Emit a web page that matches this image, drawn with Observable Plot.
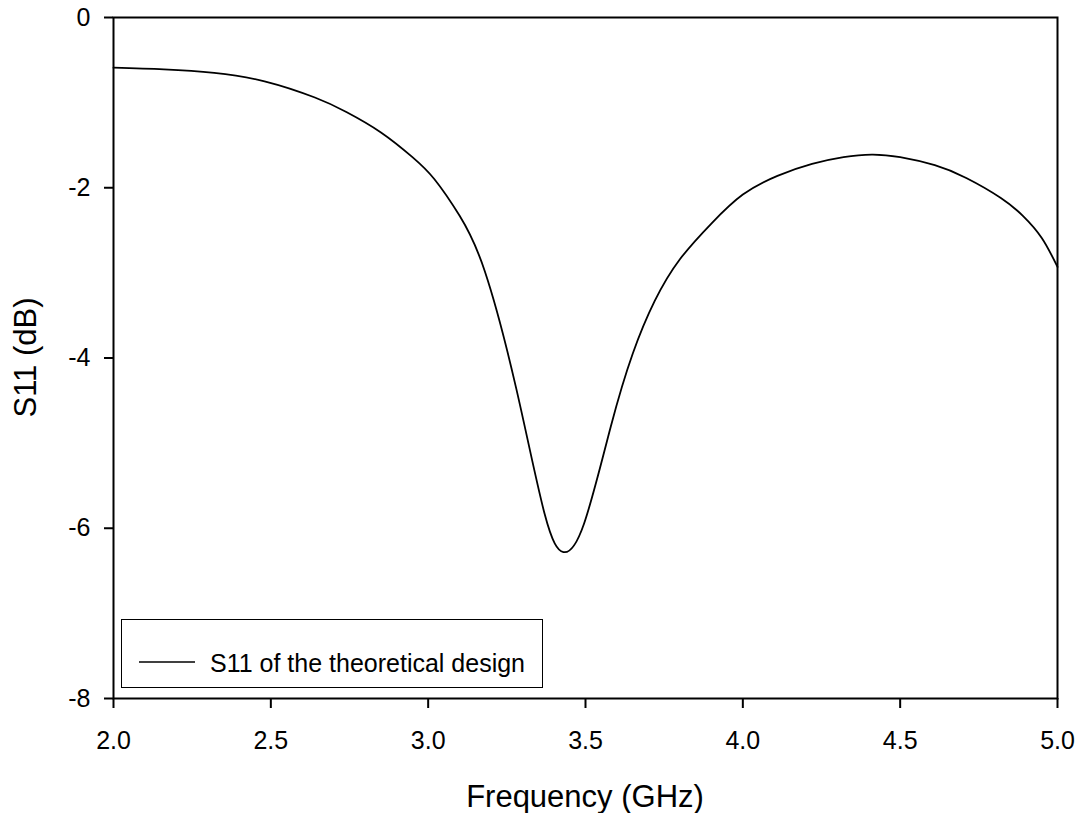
<!DOCTYPE html>
<html>
<head>
<meta charset="utf-8">
<script src="https://cdn.jsdelivr.net/npm/d3@7"></script>
<script src="https://cdn.jsdelivr.net/npm/@observablehq/plot@0.6"></script>
<style>
  html, body { margin: 0; padding: 0; background: white; }
  svg { display: block; }
</style>
</head>
<body>
<div id="chart"></div>
<script>
const freq = [2.0, 2.16, 2.32, 2.48, 2.64, 2.74, 2.85, 2.95, 3.02, 3.10, 3.18, 3.28, 3.37, 3.43, 3.495, 3.58, 3.65, 3.72, 3.80, 3.90, 4.00, 4.11, 4.22, 4.32, 4.41, 4.50, 4.61, 4.71, 4.82, 4.89, 4.95, 5.0];
const s11 = [-0.59, -0.61, -0.65, -0.75, -0.94, -1.11, -1.35, -1.64, -1.90, -2.33, -2.98, -4.36, -5.83, -6.28, -5.95, -4.81, -3.95, -3.33, -2.84, -2.42, -2.08, -1.86, -1.72, -1.64, -1.61, -1.64, -1.735, -1.885, -2.12, -2.33, -2.59, -2.93];
const xTicks = [2.0, 2.5, 3.0, 3.5, 4.0, 4.5, 5.0];
const yTicks = [0, -2, -4, -6, -8];
const xLabel = "Frequency (GHz)";
const yLabel = "S11 (dB)";
const seriesName = "S11 of the theoretical design";

const data = freq.map((f, i) => ({f, v: s11[i]}));
const font = "Arial, 'Liberation Sans', sans-serif";

const W = 1085, H = 813, mL = 113, mR = 28, mT = 17, mB = 115;

const svg = Plot.plot({
  width: W, height: H,
  marginLeft: mL, marginRight: mR, marginTop: mT, marginBottom: mB,
  style: {fontFamily: font, fontSize: "25px", color: "black", background: "white"},
  x: {domain: [2, 5]},
  y: {domain: [-8, 0]},
  marks: [
    Plot.axisX(xTicks, {tickFormat: d3.format(".1f"), tickSize: 10, tickPadding: 23, fontSize: 25, label: null, strokeWidth: 2}),
    Plot.axisY(yTicks, {tickFormat: d => String(d), tickSize: 9, tickPadding: 14, fontSize: 25, label: null, strokeWidth: 2}),
    Plot.line(data, {x: "f", y: "v", curve: "natural", stroke: "black", strokeWidth: 1.8}),
    Plot.frame({stroke: "black", strokeWidth: 2})
  ]
});

const s = d3.select(svg);
// axis titles
s.append("text")
  .attr("x", (mL + W - mR) / 2).attr("y", 807)
  .attr("text-anchor", "middle")
  .attr("font-family", font).attr("font-size", 31).attr("fill", "black")
  .text(xLabel);
s.append("text")
  .attr("transform", `translate(36,${(mT + H - mB) / 2}) rotate(-90)`)
  .attr("text-anchor", "middle")
  .attr("font-family", font).attr("font-size", 31).attr("fill", "black")
  .text(yLabel);
// legend
const lg = s.append("g");
lg.append("rect").attr("x", 121.5).attr("y", 619.5).attr("width", 421).attr("height", 68)
  .attr("fill", "white").attr("stroke", "black").attr("stroke-width", 1);
lg.append("line").attr("x1", 139).attr("x2", 195).attr("y1", 662).attr("y2", 662)
  .attr("stroke", "black").attr("stroke-width", 1.6);
lg.append("text").attr("x", 210).attr("y", 672)
  .attr("text-anchor", "start")
  .attr("font-family", font).attr("font-size", 25).attr("fill", "black")
  .text(seriesName);

document.getElementById("chart").appendChild(svg);
</script>
</body>
</html>
